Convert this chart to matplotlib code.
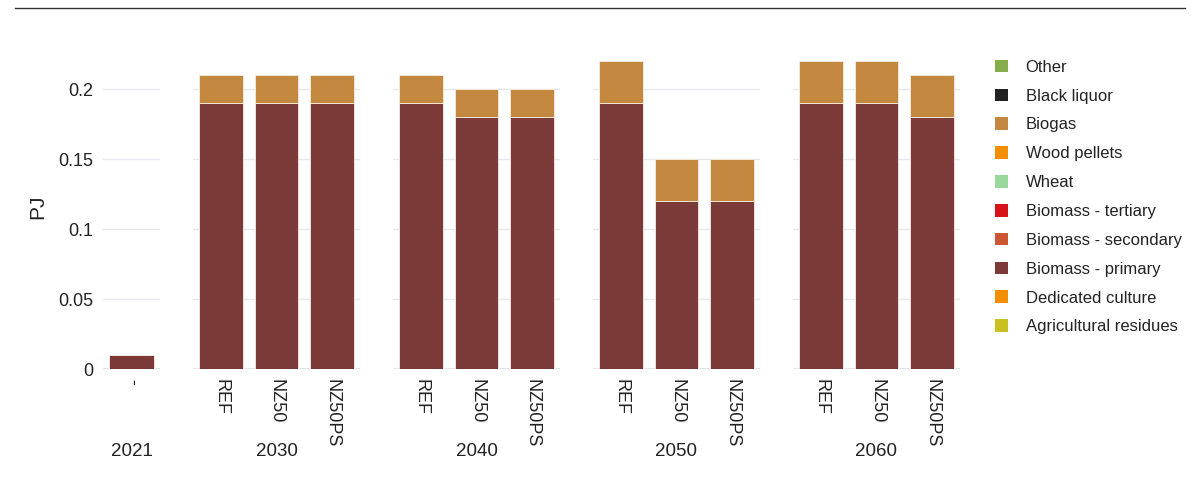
import matplotlib
matplotlib.use('Agg')
import matplotlib.pyplot as plt
from matplotlib.lines import Line2D
from matplotlib.patches import Patch

YEARS = ['2021', '2030', '2040', '2050', '2060']
SCENARIOS = {
    '2021': ['-'],
    '2030': ['REF', 'NZ50', 'NZ50PS'],
    '2040': ['REF', 'NZ50', 'NZ50PS'],
    '2050': ['REF', 'NZ50', 'NZ50PS'],
    '2060': ['REF', 'NZ50', 'NZ50PS'],
}
BIOMASS_PRIMARY = {
    '2021': [0.01],
    '2030': [0.19, 0.19, 0.19],
    '2040': [0.19, 0.18, 0.18],
    '2050': [0.19, 0.12, 0.12],
    '2060': [0.19, 0.19, 0.18],
}
BIOGAS = {
    '2021': [0.0],
    '2030': [0.02, 0.02, 0.02],
    '2040': [0.02, 0.02, 0.02],
    '2050': [0.03, 0.03, 0.03],
    '2060': [0.03, 0.03, 0.03],
}
LEGEND_NAMES = ['Other', 'Black liquor', 'Biogas', 'Wood pellets', 'Wheat',
                'Biomass - tertiary', 'Biomass - secondary', 'Biomass - primary',
                'Dedicated culture', 'Agricultural residues']
LEGEND_COLORS = ['#86ad4c', '#222222', '#c4873f', '#f28e00', '#98d89a',
                 '#d7131a', '#cc5533', '#7b3a38', '#f28e00', '#c9c021']

C_PRIMARY = '#7b3a38'
C_BIOGAS = '#c4873f'

plt.rcParams['font.family'] = ['Liberation Sans', 'DejaVu Sans']

W, H = 1201, 483
fig = plt.figure(figsize=(W / 100, H / 100), dpi=100)

# panel x-extents in pixels
spans = [(103, 160), (193, 360), (393, 560), (593, 760), (793, 960)]
y_top, y_bot = 45, 369
ymax = 0.2 * (y_bot - y_top) / (369 - 89)

for i, (yr, (x0, x1)) in enumerate(zip(YEARS, spans)):
    ax = fig.add_axes([x0 / W, 1 - y_bot / H, (x1 - x0) / W, (y_bot - y_top) / H])
    cats = SCENARIOS[yr]
    xs = list(range(len(cats)))
    ax.bar(xs, BIOMASS_PRIMARY[yr], width=0.78, color=C_PRIMARY,
           edgecolor='#f4ecec', linewidth=0.6, zorder=3)
    ax.bar(xs, BIOGAS[yr], bottom=BIOMASS_PRIMARY[yr], width=0.78, color=C_BIOGAS,
           edgecolor='#f8eee0', linewidth=0.6, zorder=3)
    ax.set_xlim(-0.5, len(cats) - 0.5)
    ax.set_ylim(0, ymax)
    ax.set_yticks([0, 0.05, 0.1, 0.15, 0.2])
    ax.grid(axis='y', color='#e6e8ef', linewidth=1, zorder=0)
    ax.axhline(0, color='#e3e7f1', linewidth=1.5, zorder=2)
    for s in ax.spines.values():
        s.set_visible(False)
    ax.set_xticks(xs)
    ax.set_xticklabels(cats, rotation=270, fontsize=13, color='#222222')
    ax.tick_params(length=0, pad=7)
    if i == 0:
        ax.set_yticklabels(['0', '0.05', '0.1', '0.15', '0.2'], fontsize=13,
                           color='#222222')
        ax.tick_params(axis='y', pad=7)
        ax.set_ylabel('PJ', fontsize=15, color='#222222', labelpad=8)
    else:
        ax.set_yticklabels([])
    fig.text(((x0 + x1) / 2) / W, 1 - 451 / H, yr, ha='center', va='center',
             fontsize=13.5, color='#222222')

# top rule
fig.add_artist(Line2D([15 / W, 1185 / W], [1 - 8 / H, 1 - 8 / H],
                      color='#333333', linewidth=1))

handles = [Patch(facecolor=c, edgecolor='none') for c in LEGEND_COLORS]
leg = fig.legend(handles, LEGEND_NAMES, loc='upper left',
                 bbox_to_anchor=(988 / W, 1 - 53 / H), frameon=False,
                 prop={'size': 12},
                 handlelength=0.8, handleheight=0.8, handletextpad=1.05,
                 labelspacing=0.82, borderaxespad=0)
for t in leg.get_texts():
    t.set_color('#222222')

fig.savefig('out.png', dpi=100)
